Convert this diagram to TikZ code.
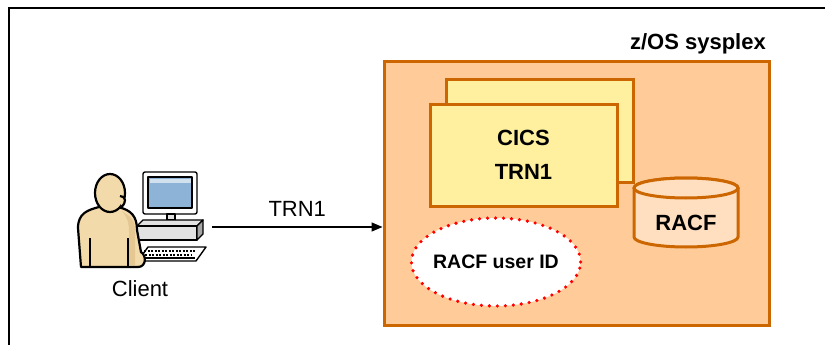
\documentclass[tikz,border=0pt]{standalone}
\usepackage{fontspec}
\setmainfont{Liberation Sans}
\usetikzlibrary{shapes.geometric,arrows.meta}
\definecolor{sysfill}{HTML}{FFCC99}
\definecolor{sysline}{HTML}{CC6600}
\definecolor{cicsfill}{HTML}{FFF0A0}
\definecolor{dbfill}{HTML}{FFDFBF}
\definecolor{skin}{HTML}{F2DAAA}
\definecolor{skindark}{HTML}{D8B57A}
\definecolor{screenblue}{HTML}{8DB4D6}
\definecolor{casegray}{HTML}{E2E2E2}

\begin{document}
\begin{tikzpicture}[x=1pt,y=1pt,
	every node/.append style={inner sep=0pt},
	plaintxt/.style={font=\fontsize{22}{26}\selectfont},
	boldtxt/.style={font=\fontsize{22}{26}\selectfont\bfseries},
	region/.style={draw=sysline,fill=sysfill,line width=3pt},
	cicsbox/.style={draw=sysline,fill=cicsfill,line width=3pt,minimum width=187,minimum height=102},
	dbline/.style={draw=sysline,fill=dbfill,line width=3pt},
	idcloud/.style={ellipse,draw=red,fill=white,line width=3.6pt,dash pattern=on 0pt off 8pt,line cap=round,inner xsep=-3pt,minimum width=166,minimum height=88},
	flow/.style={-{Triangle[length=11pt,width=9pt]},line width=1.3pt},
	hw/.style={draw=black,line width=1.4pt,line join=round},
	body/.style={draw=black,fill=skin,line width=2.2pt,line join=round}]
	\useasboundingbox (0,0) rectangle (825,-345);
	\draw [black,line width=1.3pt] (9,-345) -- (9,-8) -- (825,-8);

	\node [region,minimum width=385,minimum height=263] (sysplex) at (576.5,-193.5) {};
	\node [boldtxt,anchor=base east] (sysplexlbl) at (766,-50) {z/OS sysplex};
	\node [cicsbox] (cicsback) at (539.5,-131) {};
	\node [cicsbox,boldtxt,align=center] (cics) at (523.5,-155) {CICS\\[8pt]TRN1};

	\draw [dbline] (634,-188) -- (634,-237) arc [start angle=180,end angle=360,x radius=52,y radius=10] -- (738,-188) arc [start angle=0,end angle=180,x radius=52,y radius=10];
	\draw [dbline] (686,-188) ellipse [x radius=52,y radius=10];
	\node [boldtxt] (racf) at (686,-223) {RACF};

	\node [idcloud,font=\fontsize{19.5}{22}\selectfont\bfseries] (userid) at (496,-262) {RACF user ID};

	\draw [hw,fill=white,rounded corners=2pt] (143,-172) rectangle (197,-214);
	\draw [hw,fill=screenblue] (148,-177) rectangle (192,-208);
	\fill [white,opacity=0.6] (149.5,-178.5) rectangle (190.5,-183);
	\draw [hw,fill=casegray] (167,-214) rectangle (175,-220);
	\draw [hw,fill=casegray] (137,-226) -- (143,-220) -- (203,-220) -- (197,-226) -- cycle;
	\draw [hw,fill=casegray] (137,-226) rectangle (197,-240);
	\draw [hw,fill=black!35] (197,-226) -- (203,-220) -- (203,-234) -- (197,-240) -- cycle;
	\draw [hw,fill=white] (138,-261) -- (196,-261) -- (206,-247) -- (148,-247) -- cycle;
	\foreach \r in {251,255} \draw [black,line width=1.5pt,dash pattern=on 2pt off 1.5pt] (146.5+248*0.7-\r*0.7,-\r) -- (197+248*0.7-\r*0.7,-\r);
	\draw [hw] (140,-258) -- (195,-258);

	\draw [body] (81,-267) -- (78,-228) .. controls (78,-213) and (88,-210) .. (99,-207) -- (118,-207) .. controls (131,-210) and (137,-216) .. (137,-230) -- (141,-252) .. controls (147,-256) and (146,-267) .. (138,-267) -- cycle;
	\fill [skindark,opacity=0.5] (126,-214) .. controls (133,-218) and (135,-222) .. (135,-232) -- (135,-265) -- (129,-265) -- (129,-232) .. controls (129,-224) and (128,-218) .. (122,-211) -- cycle;
	\draw [draw=black,line width=1.6pt] (90,-238) -- (90,-267);
	\draw [draw=black,line width=1.6pt] (128,-238) -- (128,-267);
	\draw [body] (110,-193) ellipse [x radius=15,y radius=19];
	\draw [body] (120,-196) .. controls (126,-196) and (127,-203) .. (121,-207);

	\node [plaintxt] (client) at (140,-289) {Client};
	\coordinate (clientout) at (212,-227);
	\draw [flow] (clientout) -- (clientout -| sysplex.west) node [plaintxt,midway,above=10pt] (trn) {TRN1};
\end{tikzpicture}
\end{document}
